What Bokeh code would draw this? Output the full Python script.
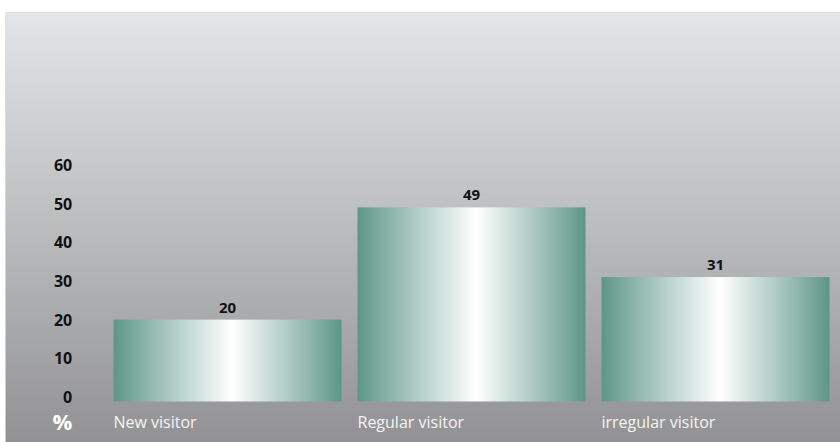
import numpy as np
from bokeh.plotting import figure
from bokeh.models import Range1d, ColumnDataSource
from bokeh.core.properties import value
from bokeh.embed import file_html
from bokeh.resources import INLINE

# ---- data ----
categories = ["New visitor", "Regular visitor", "irregular visitor"]
shares = [20, 49, 31]
y_ticks = [0, 10, 20, 30, 40, 50, 60]
y_tick_labels = ["0", "10", "20", "30", "40", "50", "60"]
unit_label = "%"

# ---- layout constants ----
W, H = 840, 442
LEFT, TOP = 5, 12
PX_X = 244.0          # pixels per category step
PX_Y = 3.87           # pixels per percentage point
frame_w, frame_h = W - LEFT, H - TOP
x_start = 1 - 222 / PX_X
x_end = x_start + frame_w / PX_X
y_start = -(H - 396.5) / PX_Y
y_end = y_start + frame_h / PX_Y
bar_w = 228 / PX_X
bar_bottom = -1.16

p = figure(width=W, height=H, output_backend="svg", toolbar_location=None,
           x_range=Range1d(x_start, x_end), y_range=Range1d(y_start, y_end),
           x_axis_type=None, y_axis_type=None,
           min_border_left=LEFT, min_border_top=TOP,
           min_border_right=0, min_border_bottom=0)
p.outline_line_color = None
p.grid.visible = False
p.background_fill_color = "#c0c2c4"
p.border_fill_color = "white"

def rgba(r, g, b, a=255):
    return (a << 24) | (b << 16) | (g << 8) | r

# background vertical gradient
rows = frame_h
top_c = np.array([226, 230, 232], float)
mid_c = np.array([196, 198, 200], float)
bot_c = np.array([146, 146, 148], float)
bg = np.zeros((rows, 1), dtype=np.uint32)
for i in range(rows):
    t = i / (rows - 1)  # 0 bottom -> 1 top
    if t > 0.62:
        s = (t - 0.62) / 0.38
        c = mid_c + (top_c - mid_c) * s
    else:
        s = t / 0.62
        c = bot_c + (mid_c - bot_c) * s
    bg[i, 0] = rgba(*[int(round(v)) for v in c])
p.image_rgba(image=[bg], x=x_start, y=y_start, dw=x_end - x_start, dh=y_end - y_start)

# bar horizontal gradient
ncol = 228
green = np.array([92, 150, 134], float)
white = np.array([255, 255, 255], float)
grad = np.zeros((1, ncol), dtype=np.uint32)
peak = 0.52
for j in range(ncol):
    f = (j + 0.5) / ncol
    if f <= peak:
        t = f / peak
    else:
        t = (1 - f) / (1 - peak)
    t = t ** 0.95
    c = green + (white - green) * t
    grad[0, j] = rgba(*[int(round(v)) for v in c])

xs = [i + 1 for i in range(len(categories))]
src = ColumnDataSource(dict(
    image=[grad] * len(categories),
    x=[x - bar_w / 2 for x in xs],
    y=[bar_bottom] * len(categories),
    dw=[bar_w] * len(categories),
    dh=[s - bar_bottom for s in shares],
    xc=xs, val=shares, lab=[str(s) for s in shares], cat=categories,
))
p.image_rgba(image="image", x="x", y="y", dw="dw", dh="dh", source=src)

font = value("Open Sans")
# value labels
p.text(x="xc", y="val", text="lab", source=src, text_font=font, text_font_style="bold",
       text_font_size="15px", text_color="#111111", text_align="center",
       text_baseline="middle", y_offset=-12)
# category labels
p.text(x="x", y=-6.4, text="cat", source=src, text_font=font,
       text_font_size="16px", text_color="#f4f4f4", text_align="left",
       text_baseline="middle", x_offset=0)

# y tick labels
tick_x = x_start + 66.7 / PX_X
p.text(x=[tick_x] * len(y_ticks), y=y_ticks, text=y_tick_labels, text_font=font,
       text_font_style="bold", text_font_size="16px", text_color="#111111",
       text_align="right", text_baseline="middle")
p.text(x=[tick_x], y=[-6.3], text=[unit_label], text_font=font, text_font_style="bold",
       text_font_size="22px", text_color="white", text_align="right",
       text_baseline="middle")

open("out.html", "w").write(file_html(p, INLINE))
